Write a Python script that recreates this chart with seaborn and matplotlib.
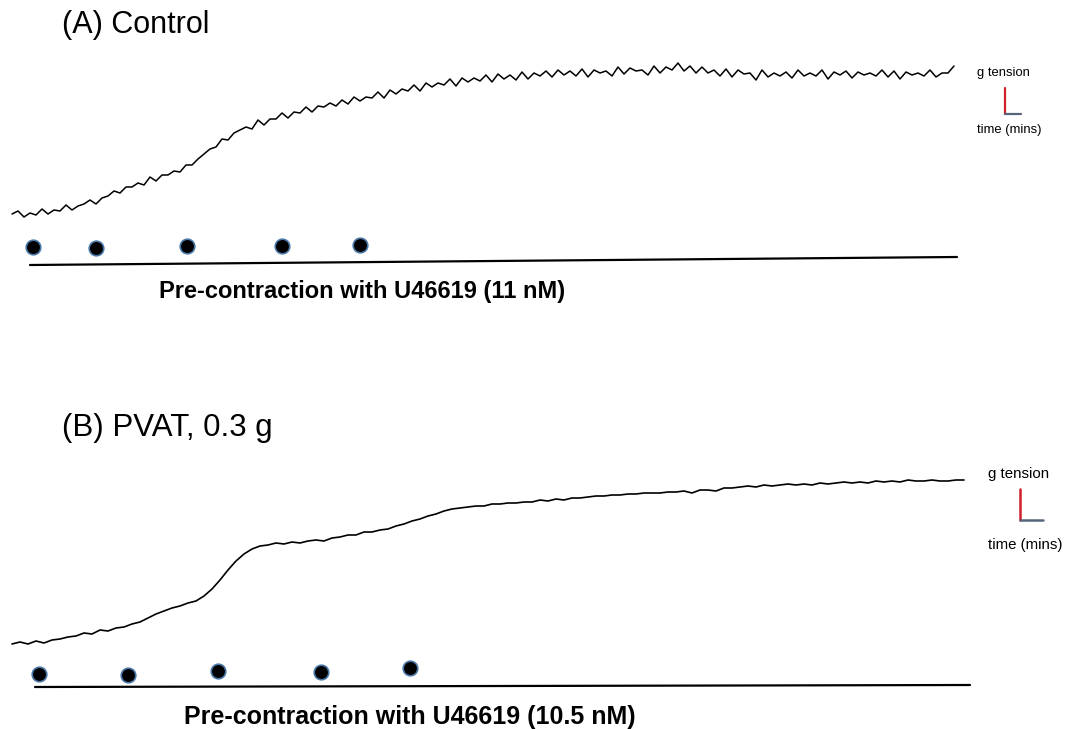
"""Isometric tension traces: pre-contraction with U46619, control vs PVAT"""

import numpy as np
from matplotlib import pyplot as plt
import seaborn as sns

trace_a = [214, 211, 217, 213, 215, 209, 214, 210, 211, 205, 210, 206, 204, 200, 204, 198,
           196, 191, 193, 187, 187, 183, 185, 177, 181, 175, 175, 171, 172, 165, 165, 159,
           154, 149, 147, 139, 140, 133, 130, 127, 129, 120, 125, 119, 119, 113, 118, 112,
           113, 107, 112, 106, 107, 103, 106, 100, 104, 97, 101, 97, 98, 92, 98, 90,
           94, 89, 91, 85, 91, 83, 87, 83, 85, 79, 86, 78, 82, 78, 81, 75,
           82, 74, 79, 75, 80, 72, 79, 73, 76, 71, 77, 70, 75, 71, 76, 69,
           77, 70, 73, 71, 76, 67, 74, 68, 71, 70, 75, 66, 73, 67, 70, 63,
           71, 66, 73, 67, 73, 70, 76, 69, 77, 70, 74, 73, 80, 70, 77, 73,
           76, 72, 78, 70, 76, 73, 76, 70, 79, 72, 75, 71, 78, 72, 75, 73,
           76, 70, 77, 71, 79, 72, 75, 73, 76, 70, 77, 73, 73, 66]

# trace (B) PVAT 0.3 g, sampled every 8 px
trace_b = [644, 642, 644, 641, 643, 640, 639, 637, 636, 633, 634, 630, 631, 628, 627, 624,
           622, 618, 614, 611, 608, 606, 603, 601, 596, 589, 580, 570, 561, 554, 549, 546,
           545, 543, 544, 542, 543, 541, 540, 541, 538, 537, 535, 535, 532, 532, 530, 529,
           526, 524, 521, 519, 516, 514, 511, 509, 508, 507, 506, 506, 504, 504, 503, 503,
           502, 502, 500, 501, 499, 500, 498, 498, 497, 496, 496, 495, 495, 494, 494, 493,
           493, 493, 492, 492, 491, 493, 490, 490, 491, 488, 488, 487, 486, 487, 485, 486,
           485, 484, 485, 484, 485, 483, 484, 483, 482, 483, 482, 483, 481, 482, 481, 482,
           480, 481, 481, 480, 481, 481, 480, 480]

# drug additions (dots)
dots_a_x = [33, 96, 187, 282, 360]
dots_a_y = [247, 248, 246, 246, 245]
dots_b_x = [39, 128, 218, 321, 410]
dots_b_y = [674, 675, 671, 672, 668]

titles = ['(A) Control', '(B) PVAT, 0.3 g']
labels = ['Pre-contraction with U46619 (11 nM)', 'Pre-contraction with U46619 (10.5 nM)']

sns.set_style('white')
plt.rcParams['font.family'] = ['Liberation Sans', 'DejaVu Sans']
plt.rcParams['text.color'] = 'black'

fig = plt.figure(figsize=(10.72, 7.29), dpi=100)
ax = fig.add_axes([0, 0, 1, 1])
ax.set_xlim(0, 1072)
ax.set_ylim(729, 0)
ax.axis('off')

# traces
xa = 12 + 6 * np.arange(len(trace_a))
xb = 12 + 8 * np.arange(len(trace_b))
sns.lineplot(x=xa, y=trace_a, ax=ax, color='black', lw=1.1, sort=False)
sns.lineplot(x=xb, y=trace_b, ax=ax, color='black', lw=1.2, sort=False)

# dots
sns.scatterplot(x=dots_a_x, y=dots_a_y, ax=ax, s=110, color='black',
                edgecolor='#4a78a8', linewidth=1.2, zorder=3)
sns.scatterplot(x=dots_b_x, y=dots_b_y, ax=ax, s=110, color='black',
                edgecolor='#4a78a8', linewidth=1.2, zorder=3)

# baselines under the dots
ax.plot([30, 957], [265, 257], color='black', lw=1.6)
ax.plot([35, 970], [687, 685], color='black', lw=1.6)

# titles and labels
ax.text(62, 25, titles[0], fontsize=22, va='center', ha='left')
ax.text(62, 428, titles[1], fontsize=22.5, va='center', ha='left')
ax.text(362, 291, labels[0], fontsize=17, fontweight='bold', ha='center', va='center')
ax.text(410, 717, labels[1], fontsize=18, fontweight='bold', ha='center', va='center')

# scale bars
ax.plot([1005, 1005], [88, 114], color='#d0202a', lw=1.6)
ax.plot([1005, 1021], [114, 114], color='#56657a', lw=1.6)
ax.text(977, 73, 'g tension', fontsize=9.4, va='center', ha='left')
ax.text(977, 130, 'time (mins)', fontsize=9.4, va='center', ha='left')

ax.plot([1020, 1020], [489, 520], color='#d0202a', lw=1.8)
ax.plot([1020, 1043], [520, 520], color='#56657a', lw=1.8)
ax.text(988, 474, 'g tension', fontsize=10.8, va='center', ha='left')
ax.text(988, 545, 'time (mins)', fontsize=10.8, va='center', ha='left')

plt.savefig('out.png', dpi=100)
